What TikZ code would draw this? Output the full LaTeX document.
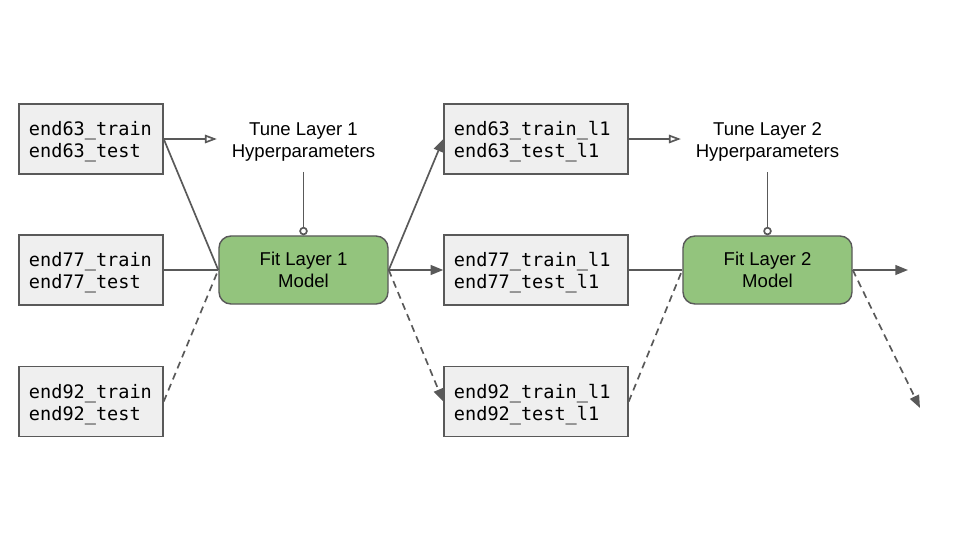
\documentclass[tikz,border=0pt]{standalone}
\usepackage{fontspec}
\setmainfont{Liberation Sans}
\setmonofont{DejaVu Sans Mono}
\usetikzlibrary{arrows.meta}
\definecolor{linegray}{HTML}{595959}
\definecolor{boxgray}{HTML}{EFEFEF}
\definecolor{fitgreen}{HTML}{93C47D}

\begin{document}
\begin{tikzpicture}[x=0.025cm, y=-0.025cm, line width=1.2pt,
        data/.style={draw=linegray, fill=boxgray, line width=1pt, minimum height=1.75cm, inner xsep=0.25cm,
            align=left, font=\ttfamily\fontsize{13.2}{15.6}\selectfont,
            execute at begin node={\rule{0pt}{14pt}}},
        fit/.style={draw=linegray, fill=fitgreen, line width=1pt, rounded corners=0.3cm, minimum width=4.225cm,
            minimum height=1.7cm, align=center, font=\fontsize{13.2}{15.6}\selectfont},
        tune/.style={align=center, inner xsep=10pt, inner ysep=7pt, font=\fontsize{13.2}{15.6}\selectfont},
        link/.style={draw=linegray},
        optional/.style={link, dash pattern=on 5pt off 3.5pt},
        feed/.style={link, -{Triangle[open, length=8.5pt, width=6pt]}},
        pass/.style={-{Triangle[length=9pt, width=7pt]}},
        hyper/.style={link, -{Circle[open, length=6pt, width=6pt]}}]
            \useasboundingbox (0,0) rectangle (960,540);
            \node[data, text width=3.1cm] (inA) at (91,139) {end63\_train\\end63\_test};
            \node[data, text width=3.1cm] (inB) at (91,270) {end77\_train\\end77\_test};
            \node[data, text width=3.1cm] (inC) at (91,401.5) {end92\_train\\end92\_test};
            \node[tune] (tuneA) at (303.5,142) {Tune Layer 1\\Hyperparameters};
            \node[fit] (fitA) at (303.5,270) {Fit Layer 1\\Model};
            \node[data, text width=4.1cm] (midA) at (536,139) {end63\_train\_l1\\end63\_test\_l1};
            \node[data, text width=4.1cm] (midB) at (536,270) {end77\_train\_l1\\end77\_test\_l1};
            \node[data, text width=4.1cm] (midC) at (536,401.5) {end92\_train\_l1\\end92\_test\_l1};
            \node[tune] (tuneB) at (767.5,142) {Tune Layer 2\\Hyperparameters};
            \node[fit] (fitB) at (767.5,270) {Fit Layer 2\\Model};
            \coordinate (outB) at (908,270);
            \coordinate (outC) at (920,408);
            \draw[feed] (inA.east) -- (inA.east -| tuneA.west);
            \draw[link] (inA.east) -- (fitA.west);
            \draw[link] (inB.east) -- (fitA.west);
            \draw[optional] (inC.east) -- (fitA.west);
            \draw[hyper] (tuneA.south) -- (fitA.north);
            \draw[link, pass] (fitA.east) -- (midA.west);
            \draw[link, pass] (fitA.east) -- (midB.west);
            \draw[optional, pass] (fitA.east) -- (midC.west);
            \draw[feed] (midA.east) -- (midA.east -| tuneB.west);
            \draw[link] (midB.east) -- (fitB.west);
            \draw[optional] (midC.east) -- (fitB.west);
            \draw[hyper] (tuneB.south) -- (fitB.north);
            \draw[link, pass] (fitB.east) -- (outB);
            \draw[optional, pass] (fitB.east) -- (outC);
\end{tikzpicture}
\end{document}
